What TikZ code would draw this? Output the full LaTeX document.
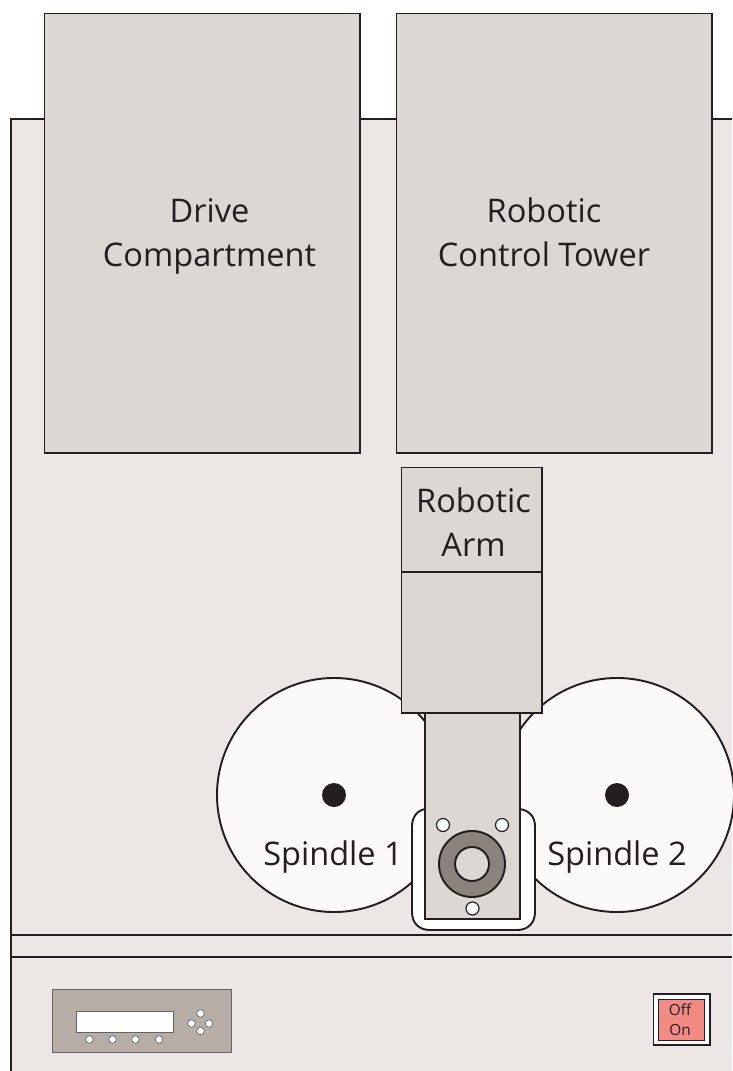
\documentclass[tikz,border=0pt]{standalone}
\usepackage{fontspec}
\setmainfont{Open Sans}
\definecolor{basec}{HTML}{ECE7E5}
\definecolor{boxc}{HTML}{DDD7D3}
\definecolor{ringc}{HTML}{8A827D}
\definecolor{panelc}{HTML}{B6ADA6}
\definecolor{redc}{HTML}{F28B86}
\definecolor{linec}{HTML}{231F20}
\definecolor{discc}{HTML}{FBFAF9}
\tikzset{
  ol/.style={draw=linec,line width=1.45pt},
  box/.style={ol,fill=boxc},
  lbl/.style={font=\fontsize{24.4}{33}\selectfont,text=linec,align=center,inner sep=0pt},
  hole/.style={draw=linec,line width=0.9pt,fill=white},
  btn/.style={draw=linec!70,line width=0.5pt,fill=white}
}
\begin{document}
\begin{tikzpicture}[x=0.75pt,y=-0.75pt]
\useasboundingbox (0,0) rectangle (732,1071);
% base
\fill[basec] (11,119) rectangle (732,1071);
\draw[ol] (11,1071) -- (11,119) -- (732,119);
\draw[ol] (11,935) -- (732,935);
\draw[ol] (11,957) -- (732,957);
% towers
\draw[box] (44.5,13.5) rectangle (360,453);
\draw[box] (396.5,13.5) rectangle (712,453);
\node[lbl] (drive) at (209.5,236) {\strut Drive\\\strut Compartment};
\node[lbl] (tower) at (544,236) {\strut Robotic\\\strut Control Tower};
% spindles
\draw[ol,fill=discc] (334,795) circle (117);
\draw[ol,fill=discc] (617,795) circle (117);
\fill[linec] (334,795) circle (12);
\fill[linec] (617,795) circle (12);
\node[lbl,anchor=base] (s1) at (333,865) {Spindle 1};
\node[lbl,anchor=base] (s2) at (617,865) {Spindle 2};
% white carrier
\draw[ol,fill=white] (425,809) .. controls (416,811) and (412,818) .. (412,827) -- (412,912) .. controls (412,923) and (419,930) .. (430,930) -- (517,930) .. controls (528,930) and (535,923) .. (535,912) -- (535,827) .. controls (535,818) and (531,811) .. (520,809);
% arm
\draw[box] (425,700) rectangle (520,919);
\draw[box] (401.5,467.5) rectangle (542,572);
\draw[box] (401.5,572) rectangle (542,713);
\node[lbl] (arm) at (473.5,526) {\strut Robotic\\\strut Arm};
% hub
\draw[ol,fill=ringc] (472,864) circle (33);
\draw[ol,fill=boxc] (472,864) circle (17);
\draw[hole] (443,825) circle (6.5);
\draw[hole] (502,825) circle (6.5);
\draw[hole] (472.5,908.5) circle (6.5);
% panel
\draw[draw=linec!70,line width=0.5pt,fill=panelc] (52.5,989) rectangle (231.5,1052.5);
\draw[draw=linec!70,line width=0.6pt,fill=white] (76,1011) rectangle (173,1032);
\foreach \x in {89.5,112.5,135.5,159} {\draw[btn] (\x,1039.5) circle (3.8);}
\draw[btn] (200.5,1013.5) circle (3.8);
\draw[btn] (200.5,1031) circle (3.8);
\draw[btn] (191.5,1023.5) circle (3.8);
\draw[btn] (209,1023.5) circle (3.8);
% switch
\draw[ol,fill=white] (653.5,994) rectangle (710,1045);
\draw[draw=linec,line width=0.6pt,fill=redc] (658.5,999) rectangle (704.5,1040);
\node[font=\fontsize{11.5}{15}\selectfont,text=linec,align=center,inner sep=0pt] (sw) at (680,1021) {\strut Off\\\strut On};
\end{tikzpicture}
\end{document}
